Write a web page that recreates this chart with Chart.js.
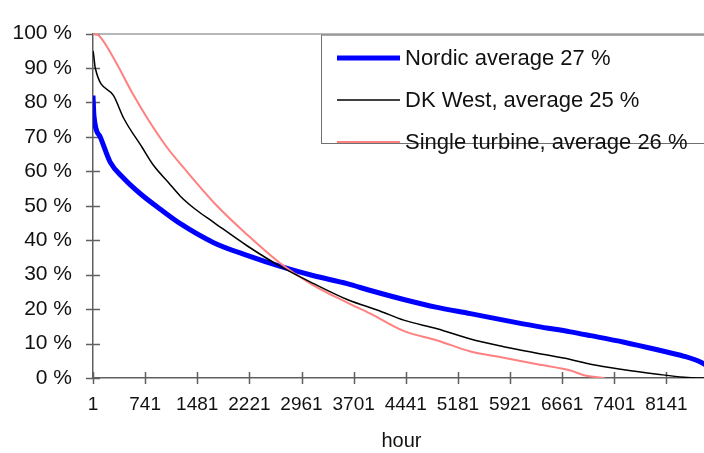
<!DOCTYPE html>
<html>
<head>
<meta charset="utf-8">
<script src="https://cdn.jsdelivr.net/npm/chart.js@4"></script>
<style>
  html, body { margin: 0; padding: 0; background: #fff; overflow: hidden; }
  #wrap { width: 710px; height: 453px; }
</style>
</head>
<body>
<div id="wrap"><canvas id="myChart" width="710" height="453"></canvas></div>
<script>
// duration curves, values (hour -> % of capacity)
const nordicHours  = [1, 15, 104, 247, 436, 673, 957, 1241, 1714, 2188, 2661, 3134, 3609, 3940, 4412, 4886, 5359, 5832, 6306, 6779, 7065, 7540, 8013, 8393, 8638, 8760];
const nordicValues = [82, 76, 70, 62.6, 58, 53.5, 49, 44.8, 39.3, 35.6, 32.4, 29.7, 27.4, 25.4, 22.8, 20.5, 18.7, 16.8, 15, 13.4, 12.3, 10.4, 8.2, 6.3, 4.5, 3];

const dkWestHours  = [1, 9, 33, 293, 435, 697, 862, 1075, 1241, 1454, 1714, 2188, 2661, 3134, 3609, 4082, 4412, 4886, 5359, 5832, 6306, 6779, 7065, 7540, 8013, 8393, 8580, 8760];
const dkWestValues = [95, 94, 90, 82, 75.5, 67, 61.7, 56.7, 52.8, 49, 45.2, 38.4, 32.4, 27.4, 22.8, 19.4, 16.8, 14.3, 11.3, 9.1, 7.2, 5.4, 4, 2.4, 1.1, 0.2, 0, 0];

const singleHours  = [1, 80, 290, 580, 770, 1050, 1290, 1760, 2190, 2660, 3130, 3610, 3940, 4410, 4890, 5360, 5830, 6310, 6780, 6970, 7260];
const singleValues = [100, 99.5, 93, 82, 75.5, 67, 61, 50, 41.6, 33.3, 26.9, 21.9, 18.7, 13.7, 10.9, 7.7, 5.9, 4, 2.2, 0.8, 0];

const seriesLabels = ['Nordic average 27 %', 'DK West, average 25 %', 'Single turbine, average 26 %'];
const hourTicks = [1, 741, 1481, 2221, 2961, 3701, 4441, 5181, 5921, 6661, 7401, 8141];
const percentTicks = [0, 10, 20, 30, 40, 50, 60, 70, 80, 90, 100];

const toPoints = (hours, values) => hours.map((h, i) => ({ x: h, y: values[i] }));

const FONT = 'Liberation Sans, Arial, sans-serif';
const AXIS_COLOR = '#606060';

// tick marks crossing the axes + light top border
const axisTicks = {
  id: 'axisTicks',
  beforeDatasetsDraw(chart) {
    const { ctx, chartArea, scales: { x, y } } = chart;
    ctx.save();
    ctx.strokeStyle = AXIS_COLOR;
    ctx.lineWidth = 1.5;
    ctx.beginPath();
    y.ticks.forEach(t => {
      const py = Math.round(y.getPixelForValue(t.value)) + 0.5;
      ctx.moveTo(chartArea.left - 7, py);
      ctx.lineTo(chartArea.left + 7, py);
    });
    x.ticks.forEach(t => {
      const px = Math.round(x.getPixelForValue(t.value)) + 0.5;
      ctx.moveTo(px, chartArea.bottom - 6);
      ctx.lineTo(px, chartArea.bottom + 6);
    });
    ctx.stroke();
    ctx.strokeStyle = '#a0a0a0';
    ctx.beginPath();
    ctx.moveTo(chartArea.left, chartArea.top + 0.5);
    ctx.lineTo(chartArea.right, chartArea.top + 0.5);
    ctx.stroke();
    ctx.restore();
  }
};

// boxed legend in the top right corner, like the excel one
const boxLegend = {
  id: 'boxLegend',
  afterDraw(chart) {
    const { ctx, chartArea } = chart;
    const left = 321.5, top = chartArea.top + 1.5, bottom = 143.5;
    ctx.save();
    ctx.fillStyle = '#fff';
    ctx.fillRect(left, top, chartArea.right - left + 5, bottom - top);
    ctx.strokeStyle = '#707070';
    ctx.lineWidth = 1;
    ctx.strokeRect(left, top, chartArea.right - left + 5, bottom - top);
    ctx.font = '22px ' + FONT;
    ctx.textBaseline = 'middle';
    ctx.fillStyle = '#111';
    chart.data.datasets.forEach((ds, i) => {
      const cy = top + 23 + i * 42;
      ctx.strokeStyle = ds.borderColor;
      ctx.lineWidth = ds.borderWidth;
      ctx.beginPath();
      ctx.moveTo(337, cy);
      ctx.lineTo(400, cy);
      ctx.stroke();
      ctx.fillText(ds.label, 405, cy + 1);
    });
    ctx.restore();
  }
};

const data = {
  datasets: [
    { label: seriesLabels[0], data: toPoints(nordicHours, nordicValues), borderColor: '#0000ff', borderWidth: 5, order: 3 },
    { label: seriesLabels[1], data: toPoints(dkWestHours, dkWestValues), borderColor: '#000000', borderWidth: 1.5, order: 1 },
    { label: seriesLabels[2], data: toPoints(singleHours, singleValues), borderColor: '#ff8080', borderWidth: 2, order: 2 }
  ]
};

const config = {
  type: 'line',
  data: data,
  options: {
    responsive: false,
    animation: false,
    layout: { padding: { top: 14, right: 0, left: 0, bottom: 0 } },
    elements: {
      point: { radius: 0 },
      line: { cubicInterpolationMode: 'monotone', fill: false }
    },
    plugins: {
      legend: { display: false },
      tooltip: { enabled: false }
    },
    scales: {
      x: {
        type: 'linear',
        min: 1,
        max: 8760,
        afterBuildTicks: (s) => { s.ticks = hourTicks.map(v => ({ value: v })); },
        afterFit: (s) => { s.height = 75; },
        grid: { display: false, drawTicks: false },
        border: { color: AXIS_COLOR, width: 1.5 },
        ticks: {
          autoSkip: false, maxRotation: 0, padding: 15, color: '#111',
          font: { family: FONT, size: 19 },
          callback: (v) => String(v)
        },
        title: { display: true, text: 'hour', color: '#111', padding: 0, font: { family: FONT, size: 20 } }
      },
      y: {
        min: 0,
        max: 100,
        afterBuildTicks: (s) => { s.ticks = percentTicks.map(v => ({ value: v })); },
        afterFit: (s) => { s.width = 93; },
        grid: { display: false, drawTicks: false },
        border: { color: AXIS_COLOR, width: 1.5 },
        ticks: {
          padding: 21, color: '#111',
          font: { family: FONT, size: 21 },
          callback: (v) => v + ' %'
        }
      }
    }
  },
  plugins: [axisTicks, boxLegend]
};

window.onload = () => {
  new Chart(document.getElementById('myChart'), config);
};
</script>
</body>
</html>
